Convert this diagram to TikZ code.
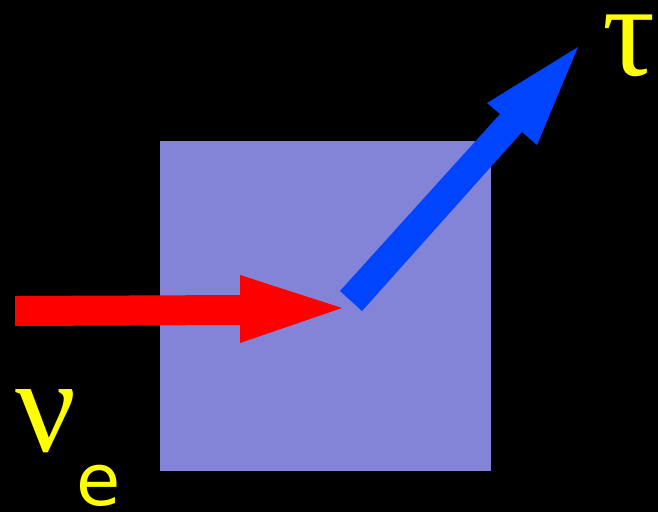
\documentclass[tikz,border=0pt]{standalone}
\usepackage{fontspec}
\newfontfamily\grk{Liberation Serif}
\newfontfamily\lat{DejaVu Sans}
\definecolor{sq}{RGB}{131,131,216}
\definecolor{bl}{RGB}{0,68,255}
\definecolor{yl}{RGB}{255,255,0}
\begin{document}
\begin{tikzpicture}[x=1pt,y=-1pt,
  lbl/.style={text=yl,inner sep=0pt}]
\fill[black] (0,0) rectangle (658,512);
\useasboundingbox (0,0) rectangle (658,512);
\fill[sq] (160,141) rectangle (491,471);
% red arrow
\fill[red] (15,296) -- (240,295) -- (240,275) -- (342,308) -- (240,343) -- (240,325) -- (15,326) -- cycle;
% blue arrow
\fill[bl] (340,291) -- (362,311) -- (522,132) -- (537,145) -- (578,47) -- (487,103) -- (500,114) -- cycle;
\node[lbl,font=\grk\fontsize{132}{140}\selectfont] (tau) at (629,46) {τ};
\node[lbl,font=\grk\fontsize{135}{140}\selectfont] (nu) at (46,421) {ν};
\node[lbl,font=\lat\fontsize{72}{80}\selectfont] (e) at (99,486) {e};
\end{tikzpicture}
\end{document}
